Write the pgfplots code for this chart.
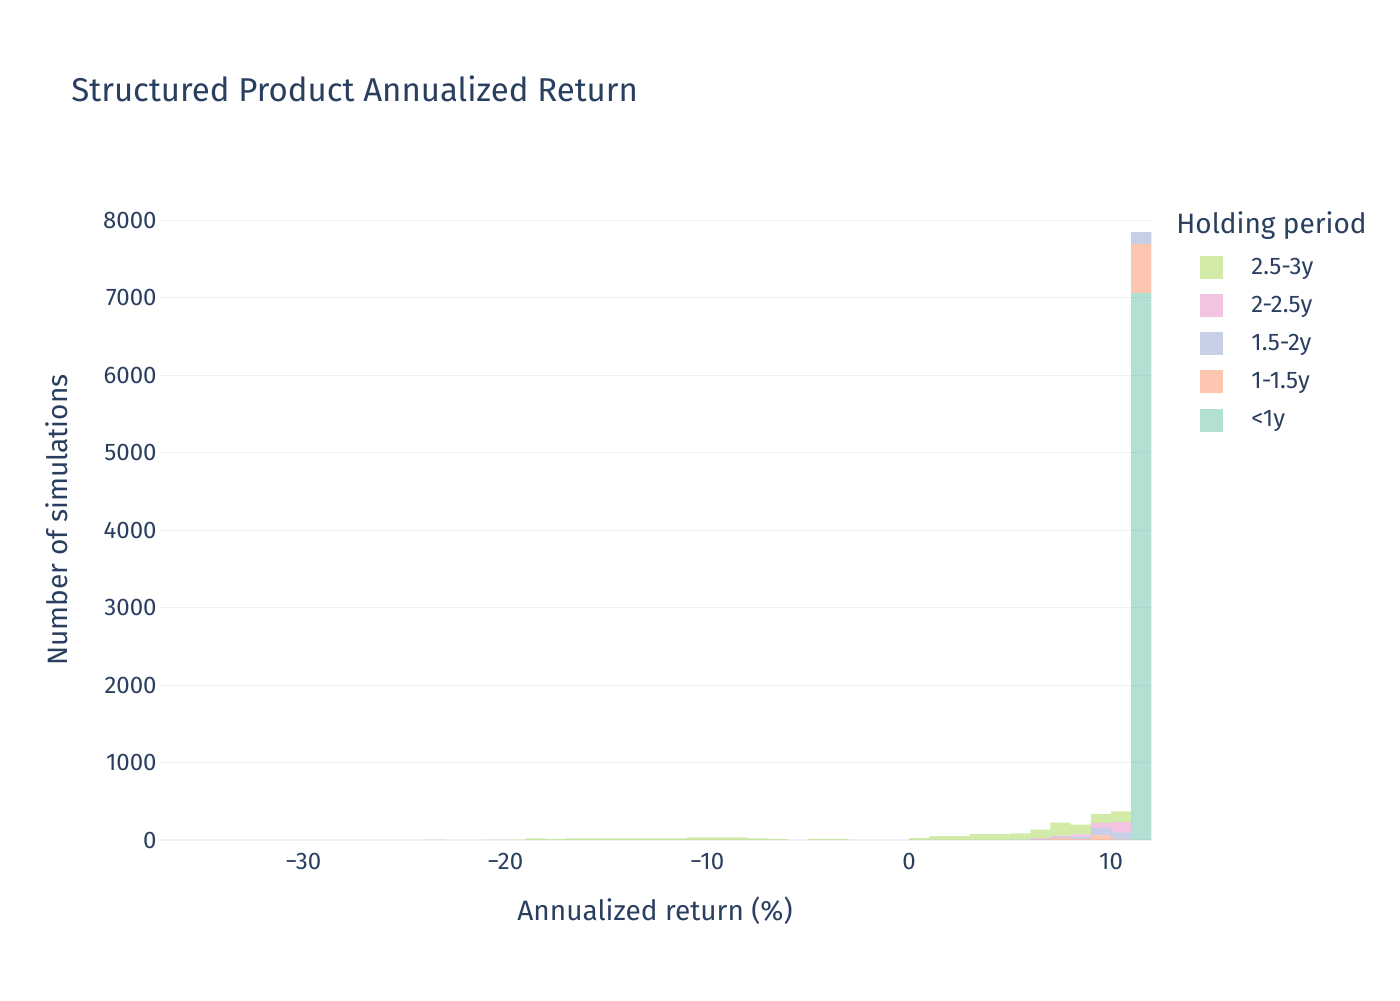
\documentclass[border=0pt]{standalone}
\usepackage{fontspec}
\setmainfont{Fira Sans}
\usepackage{pgfplots}
\pgfplotsset{compat=1.18}
\usepackage{pgfplotstable}
\definecolor{txt}{HTML}{2A3F5F}
\definecolor{grd}{HTML}{EBF0F8}
\definecolor{c1}{HTML}{66C2A5}
\definecolor{c2}{HTML}{FC8D62}
\definecolor{c3}{HTML}{8DA0CB}
\definecolor{c4}{HTML}{E78AC3}
\definecolor{c5}{HTML}{A6D854}

\pgfplotstableread{
x t o b p g
-23.5 0 0 0 0 5
-20.5 0 0 0 0 5
-19.5 0 0 0 0 5
-18.5 0 0 0 0 20
-17.5 0 0 0 0 10
-16.5 0 0 0 0 20
-15.5 0 0 0 0 20
-14.5 0 0 0 0 20
-13.5 0 0 0 0 20
-12.5 0 0 0 0 20
-11.5 0 0 0 0 20
-10.5 0 0 0 0 35
-9.5 0 0 0 0 35
-8.5 0 0 0 0 35
-7.5 0 0 0 0 20
-6.5 0 0 0 0 10
-4.5 0 0 0 0 10
-3.5 0 0 0 0 10
0.5 0 0 0 0 25
1.5 0 0 0 0 50
2.5 0 0 0 0 50
3.5 0 0 0 0 75
4.5 0 0 0 0 75
5.5 5 0 0 0 80
6.5 0 5 5 15 110
7.5 0 25 15 15 170
8.5 0 10 35 28 127
9.5 0 60 95 65 115
10.5 5 5 90 130 140
11.5 7060 630 155 0 0
}\data

\pgfplotsset{sw/.style={legend image code/.code={%
  \fill[##1] (0pt,-5.75pt) rectangle (11.5pt,5.75pt);
  \path (25.5pt,0pt);}}}

\begin{document}
\begin{tikzpicture}
\useasboundingbox (0pt,0pt) rectangle (700pt,500pt);
\begin{axis}[
  at={(80pt,80pt)}, anchor=south west,
  width=496pt, height=320pt, scale only axis,
  xmin=-37.1, xmax=12.03, ymin=0, ymax=8260,
  ybar stacked, bar width=1,
  axis line style={draw=none},
  major tick length=0pt,
  ymajorgrids, grid style={grd, line width=0.5pt},
  xtick={-30,-20,-10,0,10},
  xticklabels={−30,−20,−10,0,10},
  ytick={1000,2000,3000,4000,5000,6000,7000,8000},
  yticklabels={1000,2000,3000,4000,5000,6000,7000,8000},
  extra y ticks={0}, extra y tick labels={0},
  extra y tick style={grid style={grd, line width=1pt}},
  ticklabel style={font=\fontsize{12}{14}\selectfont, text=txt},
  yticklabel style={anchor=east, inner sep=0pt, xshift=-1.5pt},
  xticklabel style={anchor=base, inner sep=0pt, yshift=-14.5pt},
  xlabel={Annualized return (\%)},
  ylabel={Number of simulations},
  label style={font=\fontsize{14}{16}\selectfont, text=txt},
  xlabel style={at={(axis description cs:0.499,-0.111)}, anchor=center},
  ylabel style={at={(axis description cs:-0.1038,0.5)}, anchor=center, rotate=0},
  reverse legend,
  legend cell align=left,
  legend style={at={(axis description cs:1.04839,0.91328)}, anchor=north west,
    draw=none, fill=none, inner sep=0pt, row sep=7.6pt,
    font=\fontsize{12}{14}\selectfont, text=txt,
    nodes={inner sep=0pt}},
]
\addplot+[sw, fill=c1, fill opacity=0.5, draw=none] table[x=x,y=t]{\data};
\addlegendentry{<1y}
\addplot+[sw, fill=c2, fill opacity=0.5, draw=none] table[x=x,y=o]{\data};
\addlegendentry{1-1.5y}
\addplot+[sw, fill=c3, fill opacity=0.5, draw=none] table[x=x,y=b]{\data};
\addlegendentry{1.5-2y}
\addplot+[sw, fill=c4, fill opacity=0.5, draw=none] table[x=x,y=p]{\data};
\addlegendentry{2-2.5y}
\addplot+[sw, fill=c5, fill opacity=0.5, draw=none] table[x=x,y=g]{\data};
\addlegendentry{2.5-3y}
\end{axis}
\node[anchor=west, inner sep=0pt, text=txt, font=\fontsize{16.5}{20}\selectfont] at (35.5pt,455.5pt) {Structured Product Annualized Return};
\node[anchor=west, inner sep=0pt, text=txt, font=\fontsize{14}{16}\selectfont] at (588pt,387pt) {Holding period};
\end{tikzpicture}
\end{document}
